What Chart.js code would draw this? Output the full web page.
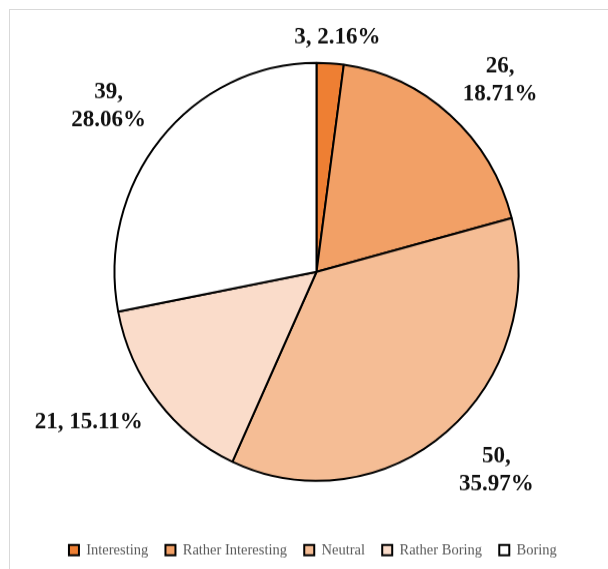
<!DOCTYPE html>
<html>
<head>
<meta charset="utf-8">
<script src="https://cdn.jsdelivr.net/npm/chart.js@4.4.1/dist/chart.umd.min.js"></script>
<style>
  html, body { margin: 0; padding: 0; background: #fff; overflow: hidden; }
  #frame { position: absolute; left: 9px; top: 9px; width: 700px; height: 700px; border: 1px solid #d9d9d9; }
  #wrap { position: absolute; left: 0; top: 0; width: 608px; height: 550px; transform: scaleY(1.0345); transform-origin: 0 0; }
</style>
</head>
<body>
<div id="frame"></div>
<div id="wrap"><canvas id="pieChart" width="608" height="550"></canvas></div>
<script>
const categories = ["Interesting", "Rather Interesting", "Neutral", "Rather Boring", "Boring"];
const counts = [3, 26, 50, 21, 39];
const sliceColors = ["#ee7f33", "#f2a066", "#f5bd95", "#fadcca", "#ffffff"];
// which value labels are broken onto two lines
const wrapLabel = [false, true, true, false, true];

const serif = "'Liberation Serif', 'Times New Roman', serif";

const clamp1 = v => Math.max(-1, Math.min(1, v));

// "count, percent" labels outside each slice
const sliceLabels = {
  id: "sliceLabels",
  afterDatasetsDraw(chart) {
    const ctx = chart.ctx;
    const meta = chart.getDatasetMeta(0);
    const total = counts.reduce((a, b) => a + b, 0);
    const lineGap = 27, capH = 15, gap = 19;
    ctx.save();
    ctx.font = "bold 23px " + serif;
    ctx.fillStyle = "#111";
    ctx.textAlign = "center";
    ctx.textBaseline = "alphabetic";
    meta.data.forEach((arc, i) => {
      const pct = (counts[i] / total * 100).toFixed(2) + "%";
      const lines = wrapLabel[i] ? [counts[i] + ",", pct] : [counts[i] + ", " + pct];
      const w = Math.max(...lines.map(l => ctx.measureText(l).width));
      const h = (lines.length - 1) * lineGap + capH;
      const mid = (arc.startAngle + arc.endAngle) / 2;
      const c = Math.cos(mid), s = Math.sin(mid);
      const d = arc.outerRadius + gap;
      // anchor just past the rim, block pushed away from the pie
      const cx = arc.x + d * c + clamp1(2 * c) * w / 2;
      const cy = arc.y + d * s + clamp1(2 * s) * h / 2;
      lines.forEach((l, k) => ctx.fillText(l, cx, cy - h / 2 + capH + k * lineGap));
    });
    ctx.restore();
  }
};

new Chart(document.getElementById("pieChart"), {
  type: "pie",
  data: {
    labels: categories,
    datasets: [{
      data: counts,
      backgroundColor: sliceColors,
      borderColor: "#000",
      borderWidth: 2
    }]
  },
  options: {
    responsive: false,
    animation: false,
    radius: 202,
    layout: { padding: { left: 25, right: 0, top: 11, bottom: 1 } },
    plugins: {
      tooltip: { enabled: false },
      legend: {
        position: "bottom",
        labels: {
          boxWidth: 10,
          boxHeight: 10,
          padding: 10,
          color: "#595959",
          font: { family: serif, size: 14.5 },
          generateLabels(chart) {
            const items = Chart.overrides.doughnut.plugins.legend.labels.generateLabels(chart);
            items.forEach(it => { it.text += "  "; });
            return items;
          }
        }
      }
    }
  },
  plugins: [sliceLabels]
});
</script>
</body>
</html>
